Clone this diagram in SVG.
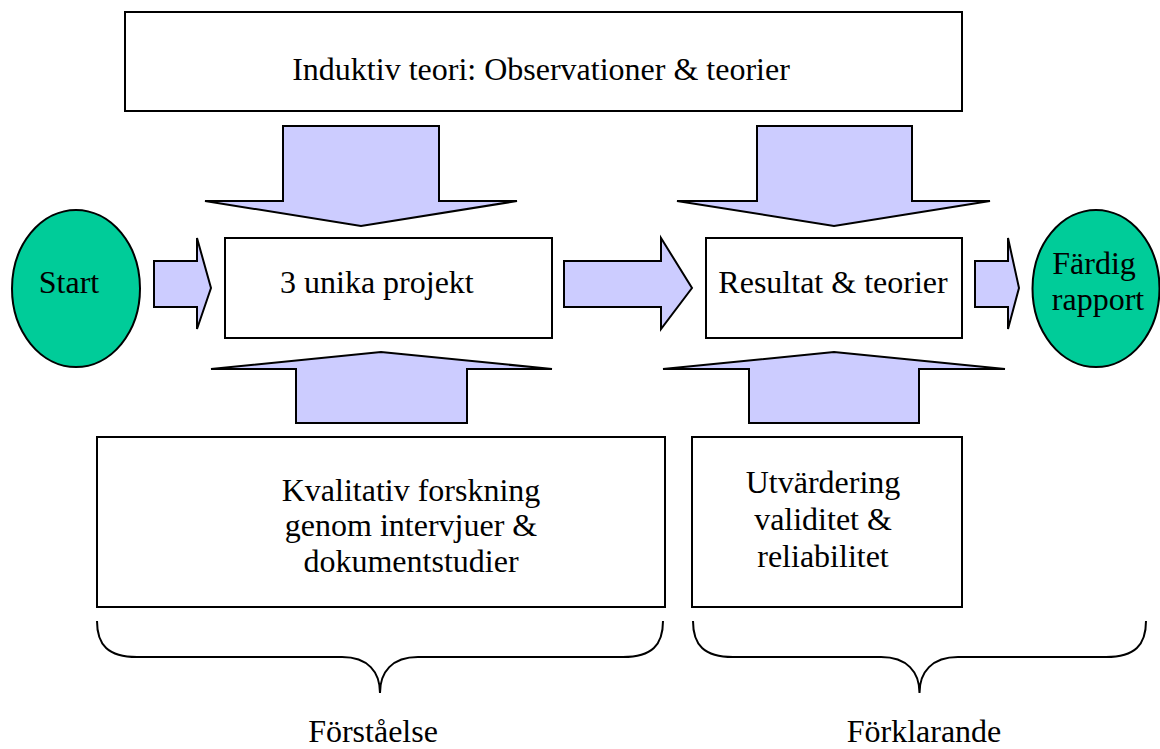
<svg xmlns="http://www.w3.org/2000/svg" width="1160" height="749" viewBox="0 0 1160 749">
<style>
.box{fill:#ffffff;stroke:#000000;stroke-width:2}
.oval{fill:#00cc99;stroke:#000000;stroke-width:2}
.arr{fill:#ccccff;stroke:#000000;stroke-width:2;stroke-linejoin:miter}
.brace{fill:none;stroke:#000000;stroke-width:2}
text{font-family:"Liberation Serif","Times New Roman",serif;font-size:32px;fill:#000000}
.c{text-anchor:middle}
</style>
<rect width="1160" height="749" fill="#ffffff"/>
<g id="connectors">
  <polygon class="arr" points="283,126 439,126 439,201 517,201 361,226 205,201 283,201"/>
  <polygon class="arr" points="757,126 912,126 912,201 990,201 834,226 677,201 757,201"/>
  <polygon class="arr" points="296,423 467,423 467,369 552,369 381,352 211,369 296,369"/>
  <polygon class="arr" points="749,423 919,423 919,369 1005,369 834,352 663,369 749,369"/>
  <polygon class="arr" points="154,261 197,261 197,238 211,288 197,329 197,307 154,307"/>
  <polygon class="arr" points="564,261 661,261 661,238 692,288 661,329 661,307 564,307"/>
  <polygon class="arr" points="975,261 1008,261 1008,238 1019,288 1008,329 1008,307 975,307"/>
  <path class="brace" d="M97,621 C97,645 108,657 137,657 L342,657 C368,657 380,672 380,693 C380,672 392,657 418,657 L623,657 C652,657 663,645 663,621"/>
  <path class="brace" d="M693,621 C693,645 704,657 733,657 L881,657 C907,657 919.5,672 919.5,693 C919.5,672 932,657 958,657 L1106,657 C1135,657 1146,645 1146,621"/>
</g>
<g id="induktiv">
  <rect class="box" x="125" y="12" width="837" height="99"/>
  <text x="541" y="80" class="c">Induktiv teori: Observationer &amp; teorier</text>
</g>
<g id="start">
  <ellipse class="oval" cx="76" cy="288.5" rx="64" ry="78.5"/>
  <text x="69" y="293" class="c">Start</text>
</g>
<g id="projekt">
  <rect class="box" x="225" y="238" width="327" height="100"/>
  <text x="280" y="293">3 unika projekt</text>
</g>
<g id="resultat">
  <rect class="box" x="706" y="238" width="256" height="100"/>
  <text x="833" y="293" class="c">Resultat &amp; teorier</text>
</g>
<g id="fardig">
  <ellipse class="oval" cx="1096" cy="288.5" rx="63.5" ry="78.5"/>
  <text x="1094" y="274" class="c">Färdig</text>
  <text x="1098" y="310" class="c">rapport</text>
</g>
<g id="kvalitativ">
  <rect class="box" x="97" y="437" width="568" height="170"/>
  <text x="411" y="501" class="c">Kvalitativ forskning</text>
  <text x="411" y="536" class="c">genom intervjuer &amp;</text>
  <text x="411" y="572" class="c">dokumentstudier</text>
</g>
<g id="utvardering">
  <rect class="box" x="692" y="437" width="270" height="170"/>
  <text x="823" y="493" class="c">Utvärdering</text>
  <text x="823" y="530" class="c">validitet &amp;</text>
  <text x="823" y="567" class="c">reliabilitet</text>
</g>
<g id="forstaelse">
  <text x="373" y="742" class="c">Förståelse</text>
</g>
<g id="forklarande">
  <text x="924" y="742" class="c">Förklarande</text>
</g>
</svg>
